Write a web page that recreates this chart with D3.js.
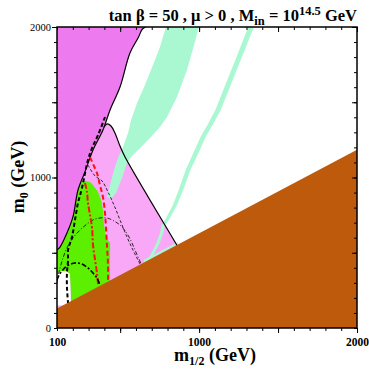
<!DOCTYPE html>
<html><head><meta charset="utf-8">
<script src="https://cdn.jsdelivr.net/npm/d3@7"></script>
<style>body{margin:0;background:#fff}svg{display:block}</style>
</head><body>
<script>
// ---- data (m1/2 in GeV, m0 in GeV) ----
const xMinorTicks = [100,200,300,400,500,600,700,800,900,1000,1100,1200,1300,1400,1500,1600,1700,1800,1900,2000];
const xMajorTicks = [500,1000,1500,2000];
const xTickLabels = [100,1000,2000];
const yMinorTicks = [0,100,200,300,400,500,600,700,800,900,1000,1100,1200,1300,1400,1500,1600,1700,1800,1900,2000];
const yMajorTicks = [500,1000,1500,2000];
const yTickLabels = [0,1000,2000];

// magenta region boundary (black solid)
const magentaEdge = [[662,2000],[640,1985],[615,1930],[562,1827],[499,1601],[436,1449],[391,1316],[328,1183],[277,1037],[233,917],[201,738],[163,631],[119,538],[100,518]];
// right boundary of light pink region (black solid)
const pinkEdge = [[398,1336],[417,1356],[442,1342],[467,1296],[499,1209],[531,1136],[866,538],[943,400]];
// green region
const greenRegion = [[258,975],[284,977],[309,970],[328,950],[360,904],[379,851],[391,784],[398,684],[410,598],[436,565],[436,200],[189,150],[182,359],[157,379],[119,379],[100,352],[100,518],[119,538],[163,631],[201,738],[233,917]];
// white gap at lower left
const whiteRegion = [[100,352],[119,379],[157,379],[182,359],[189,150],[100,150]];
// wide mint band
const mintWide = [[999,2000],[968,1881],[923,1714],[860,1535],[797,1402],[752,1336],[689,1263],[626,1196],[575,1143],[543,1096],[512,997],[474,897],[442,857],[417,870],[436,950],[461,1050],[486,1130],[518,1203],[550,1296],[569,1382],[607,1495],[657,1615],[708,1748],[752,1867],[790,2000]];
// narrow mint band
const mintNarrow = [[1347,2000],[1276,1814],[1200,1615],[1137,1449],[1085,1349],[1041,1269],[990,1150],[945,1050],[899,917],[860,817],[815,731],[782,678],[776,638],[751,565],[718,498],[686,439],[661,372],
  [641,372],[666,439],[698,498],[729,565],[754,638],[760,678],[791,731],[834,817],[871,917],[915,1050],[958,1150],[1009,1269],[1053,1349],[1103,1449],[1166,1615],[1242,1814],[1311,2000]];
const mintStrip = [[651,436],[866,555],[866,572],[651,453]];
// brown (charged LSP) region
const brownRegion = [[100,0],[100,130],[2000,1185],[2000,0]];

// contours
const blackDashed = [[404,1402],[360,1282],[322,1196],[296,1116],[258,930],[233,831],[214,718],[195,605],[170,518],[170,452],[163,365],[163,272],[170,166]];
const redDashed = [[309,1136],[328,1090],[353,1030],[372,950],[391,870],[404,764],[410,671],[417,538],[423,419],[423,299]];
const redDashDot = [[277,964],[290,904],[296,831],[309,751],[322,665],[328,552],[341,452],[353,365],[360,292]];
const thinDashed = [[296,1083],[341,1010],[385,977],[423,904],[461,817],[499,718],[543,605],[581,518],[613,452],[638,399]];
const thinDashDot = [[100,299],[113,372],[138,465],[163,532],[201,598],[246,651],[290,691],[328,718],[372,731],[417,731],[461,711],[499,684],[537,638],[569,578],[594,518],[619,459],[642,405]];
const thickDashDot = [[100,319],[113,352],[132,379],[163,412],[214,432],[258,425],[296,399],[328,365],[353,332],[372,286]];

// ---- drawing ----
const W = 369, H = 382;
const svg = d3.select("body").append("svg").attr("width", W).attr("height", H);
const x = d3.scaleLinear().domain([100, 2000]).range([57, 357]);
const y = d3.scaleLinear().domain([0, 2000]).range([328, 27]);

svg.append("clipPath").attr("id","clip").append("rect")
  .attr("x", 57).attr("y", 27).attr("width", 300).attr("height", 301);
const g = svg.append("g").attr("clip-path","url(#clip)");

const poly = d3.line().x(d => x(d[0])).y(d => y(d[1]));
const smooth = d3.line().x(d => x(d[0])).y(d => y(d[1])).curve(d3.curveCatmullRom);
const area = pts => poly(pts) + "Z";

const magentaRegion = [[100,2000]].concat(magentaEdge);
const pinkRegion = magentaEdge.slice(6).concat([[100,100]]).concat(pinkEdge.slice().reverse());

g.append("path").attr("d", area(magentaRegion)).attr("fill", "#ee7af0");
g.append("path").attr("d", area(pinkRegion)).attr("fill", "#f8a8f6");
g.append("path").attr("d", area(greenRegion)).attr("fill", "#5cf000");
g.append("path").attr("d", area(whiteRegion)).attr("fill", "#ffffff");
g.append("path").attr("d", area(mintWide)).attr("fill", "#aaf8d2");
g.append("path").attr("d", area(mintNarrow)).attr("fill", "#aaf8d2");
g.append("path").attr("d", area(mintStrip)).attr("fill", "#aaf8d2");

const lineStyle = (pts, color, w, dash) => {
  const p = g.append("path").attr("d", smooth(pts)).attr("fill","none")
    .attr("stroke", color).attr("stroke-width", w);
  if (dash) p.attr("stroke-dasharray", dash);
};
lineStyle(magentaEdge, "#000", 1.2, null);
lineStyle(pinkEdge, "#000", 1.2, null);
lineStyle(thinDashed, "#000", 0.8, "3,2");
lineStyle(thinDashDot, "#000", 0.8, "4,2,1,2");
lineStyle(blackDashed, "#000", 2, "4,2.5");
lineStyle(redDashed, "#ff1010", 2, "5,3");
lineStyle(redDashDot, "#ff1010", 2, "6,2,2,2");
lineStyle(thickDashDot, "#000", 1.6, "5,2,2,2");

g.append("path").attr("d", area(brownRegion)).attr("fill", "#be5a0c");

// axes
const ax = svg.append("g");
const noLab = () => "";
ax.append("g").attr("transform","translate(0,328)").call(d3.axisBottom(x).tickValues(xMinorTicks).tickSize(3).tickFormat(noLab));
ax.append("g").attr("transform","translate(0,328)").call(d3.axisBottom(x).tickValues(xMajorTicks).tickSize(5).tickFormat(noLab));
ax.append("g").attr("transform","translate(0,27)").call(d3.axisBottom(x).tickValues(xMinorTicks).tickSize(3).tickFormat(noLab));
ax.append("g").attr("transform","translate(0,27)").call(d3.axisBottom(x).tickValues(xMajorTicks).tickSize(5).tickFormat(noLab));
ax.append("g").attr("transform","translate(57,0)").call(d3.axisLeft(y).tickValues(yMinorTicks).tickSize(3).tickFormat(noLab));
ax.append("g").attr("transform","translate(57,0)").call(d3.axisLeft(y).tickValues(yMajorTicks).tickSize(5).tickFormat(noLab));
ax.append("g").attr("transform","translate(357,0)").call(d3.axisLeft(y).tickValues(yMinorTicks).tickSize(3).tickFormat(noLab));
ax.append("g").attr("transform","translate(357,0)").call(d3.axisLeft(y).tickValues(yMajorTicks).tickSize(5).tickFormat(noLab));
ax.selectAll(".domain").remove();
ax.selectAll("line").attr("stroke","#000").attr("stroke-width",1);

svg.append("rect").attr("x",57).attr("y",27).attr("width",300).attr("height",301)
  .attr("fill","none").attr("stroke","#000").attr("stroke-width",1.5);

const serif = "'Liberation Serif','Times New Roman',serif";
// tick labels
const xl = svg.append("g").attr("transform","translate(0,346)").call(d3.axisBottom(x).tickValues(xTickLabels).tickSize(0).tickFormat(d3.format("d")));
xl.select(".domain").remove();
xl.selectAll("text").attr("font-family", serif).attr("font-weight","bold").attr("font-size", 11.5).attr("dy", 0).attr("y", 0).attr("fill","#000");
const yl = svg.append("g").attr("transform","translate(51,0)").call(d3.axisLeft(y).tickValues(yTickLabels).tickSize(0).tickFormat(d3.format("d")));
yl.select(".domain").remove();
yl.selectAll("text").attr("font-family", serif).attr("font-size", 10.5).attr("x", 0).attr("fill","#000");

// title
const t = svg.append("text").attr("x", 357).attr("y", 21).attr("text-anchor","end")
  .attr("font-family", serif).attr("font-weight","bold").attr("font-size", 16.5);
t.append("tspan").text("tan \u03b2 = 50 ,  \u03bc > 0 , M");
t.append("tspan").attr("dy", 4).attr("font-size", 12.5).text("in");
t.append("tspan").attr("dy", -4).text(" = 10");
t.append("tspan").attr("dy", -6).attr("font-size", 12.5).text("14.5");
t.append("tspan").attr("dy", 6).text(" GeV");

// axis titles
const xt = svg.append("text").attr("x", 215).attr("y", 361).attr("text-anchor","middle")
  .attr("font-family", serif).attr("font-weight","bold").attr("font-size", 18);
xt.append("tspan").text("m");
xt.append("tspan").attr("dy", 4).attr("font-size", 12).text("1/2");
xt.append("tspan").attr("dy", -4).text(" (GeV)");

const yt = svg.append("text").attr("transform","translate(24,177) rotate(-90)").attr("text-anchor","middle")
  .attr("font-family", serif).attr("font-weight","bold").attr("font-size", 18);
yt.append("tspan").text("m");
yt.append("tspan").attr("dy", 4).attr("font-size", 12).text("0");
yt.append("tspan").attr("dy", -4).text(" (GeV)");
</script>
</body></html>
